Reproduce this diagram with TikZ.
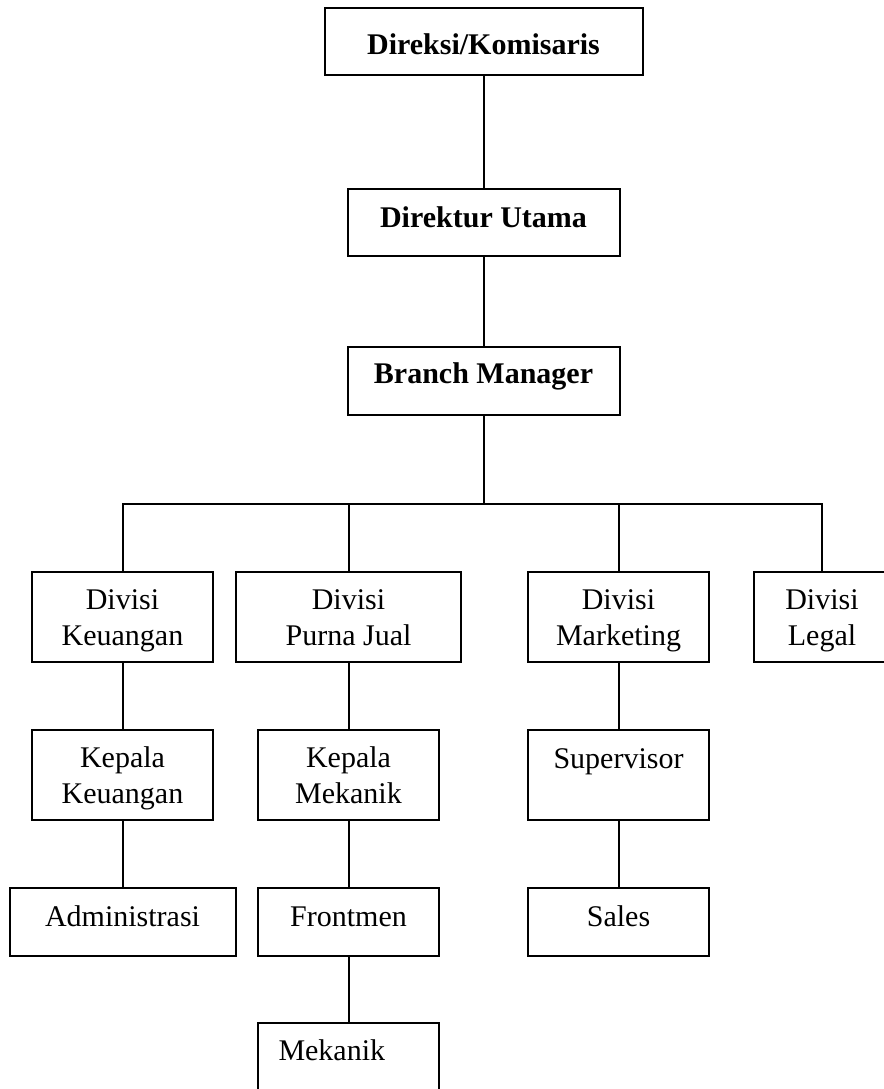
\documentclass[tikz,border=0pt]{standalone}
\usepackage{fontspec}
\setmainfont{Liberation Serif}
\usetikzlibrary{positioning}
\newcommand{\lnstrut}{\rule[-7pt]{0pt}{34pt}}

\begin{document}
\begin{tikzpicture}[x=1pt,y=-1pt,font=\fontsize{30}{36}\selectfont]
	\tikzstyle{B} = [draw,line width=2pt,inner sep=0pt]
	\tikzstyle{Bt} = [B,font=\fontsize{30}{36}\selectfont\bfseries,minimum width=272pt]
	\tikzstyle{N2} = [B,align=center,minimum width=181pt,minimum height=90pt]
	\tikzstyle{N1} = [B,minimum width=181pt,text height=38pt,text depth=30pt]
	\tikzstyle{link} = [line width=2pt]
	\useasboundingbox (0,0) rectangle (883,1089);
	\node[Bt,minimum width=318pt,text height=47pt,text depth=20pt](dk) at (483.5,41.5) {Direksi/Komisaris};
	\node[Bt,text height=38pt,text depth=29pt](du) at (483.5,222.5) {Direktur Utama};
	\node[Bt,text height=36pt,text depth=32pt](bm) at (483.5,381) {Branch Manager};
	\coordinate (bus) at (483.5,504);
	% divisi
	\node[N2](dkeu) at (122.5,617) {\lnstrut Divisi\\Keuangan\lnstrut};
	\node[N2,minimum width=225pt](dpj) at (348.5,617) {\lnstrut Divisi\\Purna Jual\lnstrut};
	\node[N2](dmkt) at (618.5,617) {\lnstrut Divisi\\Marketing\lnstrut};
	\node[N2,minimum width=136pt](dlgl) at (822,617) {\lnstrut Divisi\\Legal\lnstrut};
	% bawahan
	\node[N2,below of=dkeu,node distance=158pt](kkeu) {\lnstrut Kepala\\Keuangan\lnstrut};
	\node[N1,minimum width=226pt,below of=kkeu,node distance=147pt](adm) {Administrasi};
	\node[N2,below of=dpj,node distance=158pt](kmek) {\lnstrut Kepala\\Mekanik\lnstrut};
	\node[N1,below of=kmek,node distance=147pt](front) {Frontmen};
	\node[N1,text width=140pt,align=left,inner xsep=20.5pt,text height=37pt,text depth=31pt,below of=front,node distance=135pt](mek) {Mekanik};
	\node[N1,text depth=52pt,below of=dmkt,node distance=158pt](sup) {Supervisor};
	\node[N1,below of=sup,node distance=147pt](sales) {Sales};
	\draw[link](dk) -- (du);
	\draw[link](du) -- (bm);
	\draw[link](bm) -- (bus);
	\draw[link](dkeu.north) |- (bus) -| (dlgl.north);
	\draw[link](bus) -| (dpj.north);
	\draw[link](bus) -| (dmkt.north);
	\draw[link](dkeu) -- (kkeu);
	\draw[link](kkeu) -- (adm);
	\draw[link](dpj) -- (kmek);
	\draw[link](kmek) -- (front);
	\draw[link](front) -- (mek);
	\draw[link](dmkt) -- (sup);
	\draw[link](sup) -- (sales);
\end{tikzpicture}
\end{document}
